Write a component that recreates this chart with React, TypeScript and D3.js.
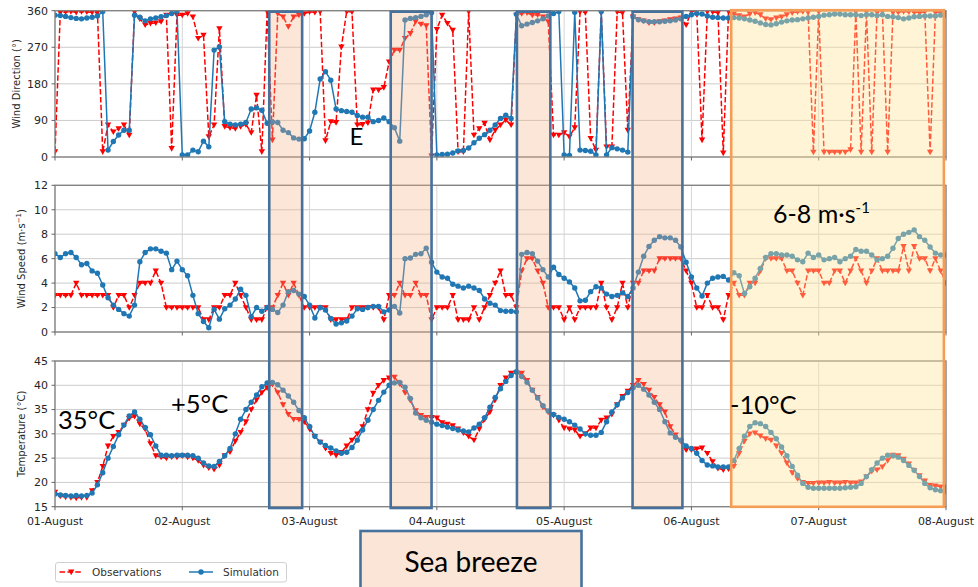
import * as d3 from "d3";

// hourly series, 01-August 00:00 .. 08-August 00:00 (169 values)
const simDir = [
  349, 348, 346, 343, 341, 340, 342, 344, 347, 358, 17, 38, 54, 66, 66, 349, 344, 335, 340, 342, 345, 348, 353, 359,
  5, 5, 17, 13, 39, 25, 263, 271, 87, 81, 79, 81, 85, 118, 121, 115, 83, 86, 85, 66, 60, 47, 44, 45,
  64, 110, 192, 210, 189, 118, 114, 112, 110, 102, 98, 98, 87, 90, 96, 87, 72, 39, 337, 341, 343, 346, 350, 355,
  5, 6, 7, 10, 15, 16, 22, 35, 46, 55, 66, 79, 95, 103, 95, 351, 323, 327, 331, 335, 340, 347, 353, 358,
  5, 4, 356, 17, 16, 14, 5, 358, 5, 23, 20, 17, 12, 345, 338, 335, 333, 333, 333, 334, 335, 337, 340, 346,
  350, 353, 352, 347, 344, 343, 342, 342, 343, 342, 340, 337, 334, 330, 326, 325, 328, 332, 335, 337, 338, 340, 342, 344,
  346, 349, 350, 352, 352, 350, 350, 350, 348, 350, 350, 348, 350, 346, 345, 343, 340, 342, 345, 346, 347, 347, 347, 349,
  349,
];
const obsDir = [
  13, 355, 357, 358, 356, 358, 357, 356, 355, 13, 79, 62, 70, 79, 54, 357, 340, 325, 329, 330, 333, 349, 21, 349,
  349, 353, 345, 292, 300, 50, 79, 316, 75, 72, 70, 75, 80, 60, 152, 13, 358, 42, 353, 345, 321, 345, 349, 353,
  357, 356, 358, 40, 87, 85, 271, 358, 357, 79, 80, 84, 165, 165, 171, 234, 263, 263, 292, 304, 333, 327, 323, 3,
  314, 349, 329, 312, 13, 13, 358, 54, 70, 83, 42, 66, 79, 91, 79, 349, 353, 355, 349, 350, 345, 333, 54, 54,
  60, 50, 72, 357, 356, 46, 17, 356, 25, 25, 357, 355, 66, 345, 338, 335, 330, 330, 333, 335, 338, 340, 342, 325,
  358, 358, 42, 358, 357, 355, 10, 358, 352, 348, 345, 352, 355, 350, 340, 338, 342, 345, 350, 355, 357, 358, 356, 12,
  357, 12, 12, 12, 12, 12, 18, 358, 12, 357, 12, 356, 358, 12, 355, 356, 358, 357, 356, 355, 357, 12, 355, 356,
  358,
];
const simSpeed = [
  6.4, 6.1, 6.4, 6.5, 6.1, 5.5, 5.6, 5.0, 4.8, 3.85, 2.8, 2.2, 1.85, 1.5, 1.3, 2.2, 5.75, 6.5, 6.8, 6.8, 6.6, 6.45, 5.1, 5.8,
  5.1, 4.6, 3.0, 1.5, 0.85, 0.35, 1.85, 1.05, 1.9, 2.2, 2.7, 3.5, 3.0, 1.25, 2.0, 1.7, 2.0, 1.85, 1.6, 2.2, 3.3, 3.4, 3.1, 2.9,
  2.2, 1.15, 2.0, 1.8, 1.1, 0.65, 0.75, 0.9, 1.3, 1.9, 1.85, 2.0, 2.1, 2.1, 1.65, 1.8, 2.1, 1.55, 6.0, 6.05, 6.35, 6.4, 6.85, 5.7,
  4.9, 4.5, 4.4, 3.9, 3.75, 3.6, 3.75, 3.6, 3.4, 2.7, 2.35, 2.2, 1.75, 1.7, 1.7, 1.65, 6.35, 6.5, 6.4, 5.8, 5.1, 4.5, 5.3, 4.7,
  4.4, 4.1, 3.6, 2.55, 2.6, 3.3, 3.7, 3.6, 3.1, 2.9, 3.0, 3.2, 2.9, 3.6, 4.9, 6.2, 7.0, 7.5, 7.8, 7.7, 7.7, 7.5, 6.95, 5.7,
  4.5, 3.6, 2.95, 4.0, 4.4, 4.5, 4.55, 4.25, 4.85, 4.6, 3.15, 3.7, 4.4, 5.2, 6.1, 6.4, 6.4, 6.3, 6.3, 6.2, 5.9, 5.75, 6.45, 6.1,
  6.3, 5.9, 6.0, 6.1, 5.75, 6.0, 6.2, 6.75, 6.6, 6.6, 6.3, 5.9, 6.0, 6.2, 6.85, 7.65, 8.0, 8.15, 8.35, 7.8, 7.5, 6.95, 6.45, 6.3,
  6.3,
];
const obsSpeed = [
  3, 3, 3, 3, 4, 3, 3, 3, 3, 3, 3, 2, 3, 3, 2, 3, 4, 4, 4, 5, 4, 2, 2, 2,
  2, 2, 2, 2, 1, 1, 2, 2, 3, 3, 4, 3, 2, 1, 1, 1, 2, 2, 3, 4, 3, 4, 3, 2,
  2, 2, 2, 2, 1, 1, 1, 1, 2, 2, 2, 2, 2, 2, 1, 3, 3, 4, 3, 3, 4, 3, 3, 1,
  2, 2, 2, 3, 1, 1, 1, 2, 1, 2, 3, 4, 5, 3, 3, 2, 5, 6, 6, 5, 4, 2, 2, 2,
  1, 2, 1, 2, 2, 2, 2, 4, 2, 1, 2, 4, 2, 4, 4, 5, 5, 5, 6, 6, 6, 6, 6, 5,
  4, 2, 2, 3, 2, 2, 1, 3, 4, 3, 3, 4, 4, 5, 6, 6, 6, 6, 5, 5, 4, 3, 5, 5,
  5, 4, 4, 5, 5, 4, 5, 6, 5, 4, 5, 6, 5, 5, 5, 5, 7, 5, 7, 6, 6, 5, 6, 5,
  4,
];
const simTemp = [
  17.6, 17.4, 17.3, 17.2, 17.3, 17.2, 17.3, 17.8, 19.5, 22.0, 25.0, 27.4, 29.8, 31.8, 33.7, 34.5, 33.0, 31.3, 29.8, 27.5, 25.6, 25.6, 25.5, 25.6,
  25.6, 25.6, 25.5, 25.0, 24.0, 23.4, 23.3, 24.3, 25.5, 27.0, 30.0, 33.0, 35.0, 36.5, 38.0, 39.7, 40.5, 40.6, 40.1, 39.0, 37.8, 36.5, 34.8, 33.3,
  31.5, 29.5, 28.3, 27.6, 27.1, 26.5, 26.0, 26.2, 27.2, 28.7, 30.8, 32.8, 35.0, 36.9, 38.6, 40.0, 40.5, 40.6, 39.6, 37.3, 34.3, 33.3, 32.8, 32.4,
  32.0, 31.7, 31.4, 31.1, 30.8, 30.6, 30.4, 31.2, 32.0, 33.3, 35.5, 37.5, 39.3, 40.8, 42.0, 42.8, 41.8, 40.6, 39.0, 37.4, 35.8, 34.7, 34.0, 33.4,
  33.0, 32.5, 31.8, 31.0, 30.0, 29.7, 29.7, 30.3, 32.5, 34.5, 36.0, 37.4, 38.5, 39.5, 40.0, 39.2, 38.0, 36.5, 35.0, 32.5, 30.2, 29.3, 28.7, 27.5,
  27.0, 26.0, 24.5, 23.6, 23.4, 23.2, 23.2, 23.2, 24.5, 27.0, 29.5, 31.5, 32.3, 32.1, 31.5, 30.3, 29.0, 27.3, 25.5, 23.3, 21.5, 19.8, 19.0, 18.8,
  18.8, 18.8, 18.8, 18.8, 18.8, 18.9, 19.0, 19.1, 19.8, 21.2, 22.6, 24.0, 25.0, 25.6, 25.5, 25.2, 24.5, 23.5, 22.5, 21.2, 19.8, 18.9, 18.5, 18.3,
  18.1,
];
const obsTemp = [
  18.0, 17.2, 17.0, 16.9, 16.8, 16.9, 16.9, 18.3, 20.0, 23.3, 27.5, 29.5, 30.3, 31.8, 33.2, 33.6, 32.0, 31.0, 28.0, 25.5, 25.2, 25.0, 25.3, 25.2,
  25.5, 25.2, 25.0, 24.5, 23.5, 23.0, 22.7, 23.5, 25.5, 26.3, 28.5, 30.3, 32.5, 35.0, 37.0, 38.5, 39.5, 40.2, 38.5, 36.0, 34.0, 33.0, 33.0, 32.5,
  31.0, 29.5, 28.3, 27.0, 26.0, 25.6, 26.2, 27.5, 28.7, 30.0, 31.5, 35.0, 38.4, 40.0, 41.0, 41.5, 41.7, 40.3, 38.5, 36.9, 34.8, 33.8, 33.4, 33.4,
  33.3, 32.3, 32.0, 31.7, 31.0, 30.2, 29.5, 28.7, 31.0, 33.0, 34.5, 37.0, 40.0, 41.5, 42.5, 42.6, 42.5, 41.0, 39.0, 37.5, 35.5, 34.5, 33.8, 32.8,
  31.2, 31.0, 30.8, 29.5, 30.0, 31.2, 31.2, 32.8, 33.3, 34.0, 36.0, 37.7, 38.8, 40.0, 41.0, 40.2, 39.0, 37.5, 36.0, 34.5, 31.5, 29.8, 28.5, 26.7,
  26.7, 26.9, 27.1, 26.0, 24.3, 22.9, 22.6, 22.8, 23.3, 26.0, 28.5, 30.0, 30.2, 29.6, 29.0, 28.7, 27.5, 26.0, 24.0, 22.0, 20.8, 20.0, 19.8, 19.8,
  19.9, 19.9, 20.0, 19.9, 19.9, 20.0, 19.9, 19.9, 20.1, 21.2, 22.3, 22.6, 23.2, 24.5, 25.6, 25.5, 24.8, 23.8, 22.5, 21.4, 20.3, 19.4, 19.3, 19.1,
  19.0,
];

const dayLabels = ["01-August", "02-August", "03-August", "04-August", "05-August", "06-August", "07-August", "08-August"];
const dirTicks = [0, 90, 180, 270, 360];
const speedTicks = [0, 2, 4, 6, 8, 10, 12];
const tempTicks = [15, 20, 25, 30, 35, 40, 45];

// sea breeze windows and the cooler period, in hours from 01-August 00:00
const seaBreeze = [[40.4, 46.6], [63.3, 71.0], [87.1, 93.4], [108.9, 118.3]];
const coolPeriod = [127.5, 167.6];

const W = 978;
const H = 587;
const RED = "#ff0000";
const BLUE = "#1f77b4";

const start = new Date(2019, 7, 1, 0, 0, 0);
const at = (h: number) => new Date(start.getTime() + h * 3600e3);
const times = simTemp.map((_, i) => at(i));

const x = d3.scaleTime().domain([start, at(168)]).range([55, 946]);
const days = d3.timeDay.range(start, at(169));

const panels = [
  { id: "dir", top: 10.7, bottom: 157, domain: [0, 360], ticks: dirTicks, sim: simDir, obs: obsDir, labelX: 16 },
  { id: "spd", top: 185.3, bottom: 332, domain: [0, 12], ticks: speedTicks, sim: simSpeed, obs: obsSpeed, labelX: 21 },
  { id: "tmp", top: 361, bottom: 506.7, domain: [15, 45], ticks: tempTicks, sim: simTemp, obs: obsTemp, labelX: 21 },
];

const tri = "M-3.2,-2.4L3.2,-2.4L0,3.2Z";

function Panel({ p }: { p: (typeof panels)[number] }) {
  const y = d3.scaleLinear().domain(p.domain).range([p.bottom, p.top]);
  const line = d3.line<number>().x((_, i) => x(times[i])).y((d) => y(d));
  const [x0, x1] = x.range();
  return (
    <g>
      <defs>
        <clipPath id={`clip-${p.id}`}>
          <rect x={x0} y={p.top} width={x1 - x0} height={p.bottom - p.top} />
        </clipPath>
      </defs>
      {p.ticks.map((t) => (
        <line key={`gy${t}`} x1={x0} x2={x1} y1={y(t)} y2={y(t)} stroke="#cccccc" strokeWidth={1} />
      ))}
      {days.map((d, i) => (
        <line key={`gx${i}`} x1={x(d)} x2={x(d)} y1={p.top} y2={p.bottom} stroke="#d6d6d6" strokeWidth={1} />
      ))}
      <g clipPath={`url(#clip-${p.id})`}>
        <path d={line(p.obs) ?? ""} fill="none" stroke={RED} strokeWidth={1.5} strokeDasharray="5.5 2.4" />
        {p.obs.map((v, i) => (
          <path key={`o${i}`} d={tri} transform={`translate(${x(times[i])},${y(v)})`} fill={RED} />
        ))}
        <path d={line(p.sim) ?? ""} fill="none" stroke={BLUE} strokeWidth={1.5} />
        {p.sim.map((v, i) => (
          <circle key={`s${i}`} cx={x(times[i])} cy={y(v)} r={2.7} fill={BLUE} />
        ))}
      </g>
      <rect x={x0} y={p.top} width={x1 - x0} height={p.bottom - p.top} fill="none" stroke="#808080" strokeWidth={1.3} />
      {p.ticks.map((t) => (
        <g key={`ty${t}`}>
          <line x1={x0 - 3.5} x2={x0} y1={y(t)} y2={y(t)} stroke="#666" />
          <text x={48} y={y(t)} dy="0.35em" textAnchor="end" fontSize={11} fill="#262626" fontFamily="DejaVu Sans">
            {t}
          </text>
        </g>
      ))}
      {days.map((d, i) => (
        <line key={`tx${i}`} x1={x(d)} x2={x(d)} y1={p.bottom} y2={p.bottom + 3.5} stroke="#666" />
      ))}
    </g>
  );
}

export default function App() {
  const top = 11.7;
  const bottom = 508;
  return (
    <svg width={W} height={H} style={{ position: "absolute", left: 0, top: 0, background: "#fff" }}>
      {panels.map((p) => (
        <Panel key={p.id} p={p} />
      ))}

      {/* axis labels */}
      <g fontFamily="DejaVu Sans" fontSize={10} fill="#262626" textAnchor="middle">
        <text transform={`translate(${panels[0].labelX},${(panels[0].top + panels[0].bottom) / 2}) rotate(-90)`} dy="0.35em">
          Wind Direction (°)
        </text>
        <text transform={`translate(${panels[1].labelX},${(panels[1].top + panels[1].bottom) / 2}) rotate(-90)`} dy="0.35em">
          Wind Speed (m·s
          <tspan baselineShift="super" fontSize={7}>−1</tspan>)
        </text>
        <text transform={`translate(${panels[2].labelX},${(panels[2].top + panels[2].bottom) / 2}) rotate(-90)`} dy="0.35em">
          Temperature (°C)
        </text>
      </g>
      {days.map((d, i) => (
        <text key={`xl${i}`} x={x(d)} y={525} textAnchor="middle" fontSize={11} fill="#262626" fontFamily="DejaVu Sans">
          {dayLabels[i]}
        </text>
      ))}

      {/* highlighted periods */}
      {seaBreeze.map(([a, b], i) => (
        <rect key={`sbf${i}`} x={x(at(a))} y={top} width={x(at(b)) - x(at(a))} height={bottom - top} fill="#f4b183" fillOpacity={0.32} />
      ))}
      <rect x={x(at(coolPeriod[0]))} y={10.2} width={x(at(coolPeriod[1])) - x(at(coolPeriod[0]))} height={506.8 - 10.2} fill="#ffe699" fillOpacity={0.4} />
      {seaBreeze.map(([a, b], i) => (
        <rect key={`sbs${i}`} x={x(at(a))} y={top} width={x(at(b)) - x(at(a))} height={bottom - top} fill="none" stroke="#46719c" strokeWidth={2.6} />
      ))}
      <rect x={x(at(coolPeriod[0]))} y={10.2} width={x(at(coolPeriod[1])) - x(at(coolPeriod[0]))} height={506.8 - 10.2} fill="none" stroke="#f59d56" strokeWidth={2.6} />

      {/* annotations */}
      <g fontFamily="Lato" fill="#000">
        <text x={349.5} y={144.5} fontSize={24}>E</text>
        <text x={773} y={222.7} fontSize={25}>
          6-8 m·s<tspan dy={-10} fontSize={15}>-1</tspan>
        </text>
        <text x={58} y={429.3} fontSize={25.5}>35°C</text>
        <text x={171} y={412.7} fontSize={25.5}>+5°C</text>
        <text x={730} y={414} fontSize={25.5}>-10°C</text>
      </g>

      {/* sea breeze label */}
      <rect x={360.5} y={531} width={221} height={70} fill="#fbe5d6" stroke="#46719c" strokeWidth={2.6} />
      <text x={471} y={572} textAnchor="middle" fontFamily="Lato" fontSize={28} fill="#000">
        Sea breeze
      </text>

      {/* legend */}
      <g fontFamily="DejaVu Sans" fontSize={10.5} fill="#333">
        <rect x={55.5} y={562.5} width={231} height={19.5} rx={2.5} fill="#fff" stroke="#d0d0d0" />
        <line x1={59.5} x2={83} y1={572} y2={572} stroke={RED} strokeWidth={1.5} strokeDasharray="5.5 2.4" />
        <path d={tri} transform="translate(71.2,572)" fill={RED} />
        <text x={92} y={572} dy="0.35em">Observations</text>
        <line x1={189} x2={213} y1={572} y2={572} stroke={BLUE} strokeWidth={1.5} />
        <circle cx={201} cy={572} r={2.7} fill={BLUE} />
        <text x={223} y={572} dy="0.35em">Simulation</text>
      </g>
    </svg>
  );
}
